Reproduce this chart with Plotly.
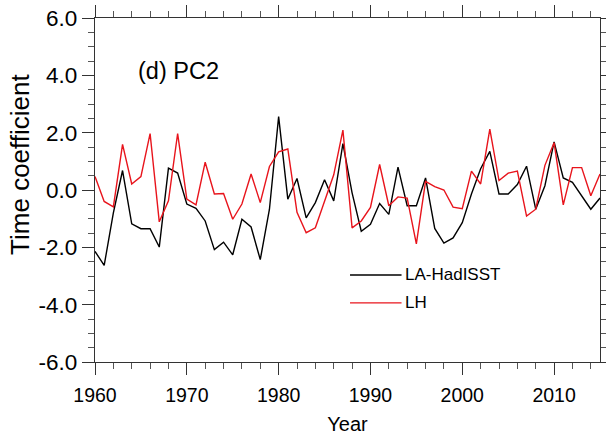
import plotly.graph_objects as go

years = list(range(1960, 2016))

# LA-HadISST time coefficient of PC2
la_hadisst = [
    -2.14, -2.63, -0.80, 0.68, -1.18, -1.35, -1.35, -1.99, 0.76, 0.59,
    -0.49, -0.64, -1.08, -2.08, -1.82, -2.26, -1.02, -1.29, -2.43, -0.67,
    2.56, -0.32, 0.40, -0.97, -0.44, 0.36, -0.38, 1.62, -0.10, -1.44,
    -1.20, -0.47, -0.85, 0.80, -0.55, -0.55, 0.42, -1.34, -1.85, -1.67,
    -1.14, -0.14, 0.74, 1.35, -0.14, -0.14, 0.19, 0.83, -0.67, 0.15,
    1.68, 0.42, 0.27, -0.20, -0.67, -0.28,
]

# LH time coefficient of PC2
lh = [
    0.47, -0.40, -0.59, 1.59, 0.21, 0.47, 1.97, -1.11, -0.38, 1.97,
    -0.32, -0.52, 0.97, -0.14, -0.12, -1.02, -0.49, 0.56, -0.44, 0.82,
    1.33, 1.43, -0.78, -1.49, -1.32, -0.40, 0.53, 2.09, -1.32, -1.08,
    -0.61, 0.89, -0.55, -0.24, -0.28, -1.88, 0.30, 0.12, 0.00, -0.60,
    -0.65, 0.66, 0.21, 2.12, 0.33, 0.59, 0.66, -0.91, -0.67, 0.86,
    1.65, -0.52, 0.78, 0.78, -0.20, 0.56,
]

x_ticks = [1960, 1970, 1980, 1990, 2000, 2010]
y_ticks = [-6.0, -4.0, -2.0, 0.0, 2.0, 4.0, 6.0]
y_tick_labels = ["-6.0", "-4.0", "-2.0", "0.0", "2.0", "4.0", "6.0"]

font_family = "Liberation Sans, Arial, sans-serif"

fig = go.Figure()
fig.add_trace(go.Scatter(x=years, y=la_hadisst, mode="lines", name="LA-HadISST",
                         line=dict(color="black", width=1.4)))
fig.add_trace(go.Scatter(x=years, y=lh, mode="lines", name="LH",
                         line=dict(color="#e8141c", width=1.4)))

axis_common = dict(
    showline=True, linecolor="#333333", linewidth=1.2, mirror="ticks",
    ticks="outside", ticklen=12, tickwidth=1.2, tickcolor="#333333",
    showgrid=False, zeroline=False, automargin=False,
)

fig.update_xaxes(
    range=[1960, 2015], tickvals=x_ticks,
    tickfont=dict(size=19.5, color="black", family=font_family),
    ticklabelstandoff=3,
    minor=dict(dtick=2, tick0=1960, ticks="outside", ticklen=6, tickwidth=1, tickcolor="#555555"),
    title=dict(text="Year", font=dict(size=20, color="black", family=font_family), standoff=12),
    **axis_common,
)
fig.update_yaxes(
    range=[-6, 6], tickvals=y_ticks, ticktext=y_tick_labels,
    tickfont=dict(size=22.5, color="black", family=font_family),
    minor=dict(dtick=0.5, tick0=0, ticks="outside", ticklen=6, tickwidth=1, tickcolor="#555555"),
    **axis_common,
)

# Y-axis title, placed as a rotated annotation left of the tick labels
fig.add_annotation(xref="paper", yref="paper", x=-0.1485, y=0.573, text="Time coefficient",
                   textangle=-90, showarrow=False, xanchor="center", yanchor="middle",
                   font=dict(size=26, color="black", family=font_family))

# Legend drawn inside the plot area
legend_items = [("LA-HadISST", "black", 0.253), ("LH", "#e8141c", 0.172)]
for label, color, ypos in legend_items:
    fig.add_shape(type="line", xref="paper", yref="paper", x0=0.505, x1=0.607,
                  y0=ypos, y1=ypos, line=dict(color=color, width=1.4))
    fig.add_annotation(xref="paper", yref="paper", x=0.609, y=ypos, text=label,
                       showarrow=False, xanchor="left", yanchor="middle",
                       font=dict(size=17, color="black", family=font_family))

fig.add_annotation(xref="paper", yref="paper", x=0.081, y=0.845, text="(d) PC2",
                   showarrow=False, xanchor="left", yanchor="middle",
                   font=dict(size=23.5, color="black", family=font_family))

fig.update_layout(
    width=606, height=439,
    margin=dict(l=95, r=6, t=18, b=77),
    paper_bgcolor="white", plot_bgcolor="white",
    showlegend=False,
)

fig.write_html("out.html")
